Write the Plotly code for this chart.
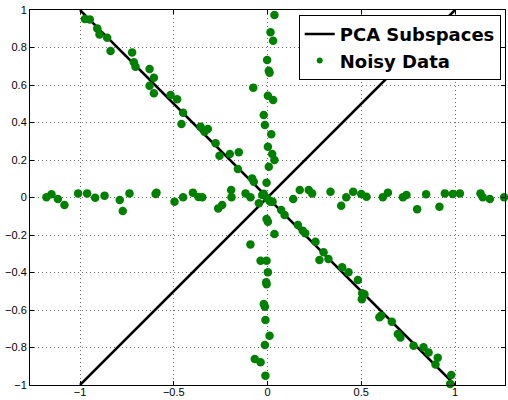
import plotly.graph_objects as go

# PCA subspace lines (endpoints)
line_x = [-1, 1, None, -1, 1]
line_y = [1, -1, None, -1, 1]

# Noisy data: points near the horizontal subspace
h_x = [-1.179, -1.152, -1.118, -1.083, -1.010, -0.962, -0.919, -0.869, -0.788, -0.772,
       -0.736, -0.597, -0.592, -0.496, -0.450, -0.398, -0.368, -0.348, -0.263, -0.242,
       -0.194, -0.192, -0.117, -0.091, -0.046, -0.028, -0.002, 0.016, 0.137, 0.172,
       0.220, 0.238, 0.336, 0.393, 0.420, 0.457, 0.500, 0.528, 0.615, 0.642,
       0.722, 0.741, 0.798, 0.846, 0.917, 0.946, 0.988, 1.026, 1.136, 1.148,
       1.186, 1.262]
h_y = [0.001, 0.017, -0.008, -0.040, 0.022, 0.022, -0.001, 0.010, -0.013, -0.072,
       0.022, 0.019, 0.026, -0.022, 0.001, 0.026, 0.003, 0.001, -0.058, -0.040,
       0.040, 0.001, 0.022, 0.001, -0.031, 0.013, -0.004, -0.022, -0.008, 0.040,
       0.040, 0.022, 0.031, -0.044, 0.001, 0.031, 0.019, 0.004, 0.001, 0.026,
       0.001, 0.013, -0.063, 0.017, -0.049, 0.022, 0.019, 0.022, 0.022, 0.001,
       -0.008, 0.001]

# Points near the vertical subspace
v_x = [0.037, 0.016, 0.030, -0.002, 0.007, 0.011, -0.076, 0.002, 0.030, -0.020,
       -0.014, 0.020, 0.002, 0.025, 0.037, 0.007, -0.005, -0.005, 0.002, 0.037,
       -0.091, -0.037, -0.005, 0.002, -0.007, -0.005, -0.020, -0.014, -0.011, 0.011,
       -0.014, -0.068, -0.037, -0.011]
v_y = [0.973, 0.881, 0.836, 0.733, 0.676, 0.666, 0.586, 0.543, 0.520, 0.440,
       0.387, 0.337, 0.271, 0.232, 0.200, 0.164, 0.079, -0.115, -0.129, -0.195,
       -0.250, -0.337, -0.337, -0.399, -0.452, -0.463, -0.568, -0.582, -0.653, -0.737,
       -0.787, -0.861, -0.879, -0.950]

# Points near the diagonal subspace
d_x = [-1.003, -0.974, -0.948, -0.908, -0.896, -0.855, -0.837, -0.722, -0.713, -0.704,
       -0.629, -0.606, -0.629, -0.606, -0.517, -0.482, -0.450, -0.459, -0.357, -0.336,
       -0.318, -0.277, -0.256, -0.201, -0.153, -0.158, -0.082, -0.073, -0.020, 0.011,
       0.027, 0.073, 0.091, 0.162, 0.188, 0.201, 0.256, 0.299, 0.277, 0.325,
       0.398, 0.432, 0.482, 0.505, 0.517, 0.503, 0.597, 0.606, 0.663, 0.695,
       0.709, 0.779, 0.832, 0.859, 0.908, 0.896, 0.980, 0.974]
d_y = [1.004, 0.952, 0.950, 0.902, 0.870, 0.852, 0.781, 0.774, 0.721, 0.698,
       0.685, 0.639, 0.596, 0.556, 0.547, 0.524, 0.452, 0.392, 0.378, 0.351,
       0.365, 0.289, 0.223, 0.232, 0.241, 0.152, 0.102, 0.084, 0.020, -0.017,
       -0.022, -0.067, -0.093, -0.147, -0.177, -0.191, -0.236, -0.292, -0.333, -0.328,
       -0.372, -0.399, -0.440, -0.511, -0.516, -0.543, -0.639, -0.630, -0.662, -0.728,
       -0.746, -0.790, -0.799, -0.826, -0.854, -0.890, -0.947, -0.995]

x_ticks = [-1, -0.5, 0, 0.5, 1]
x_labels = ["\u22121", "\u22120.5", "0", "0.5", "1"]
y_ticks = [-1, -0.8, -0.6, -0.4, -0.2, 0, 0.2, 0.4, 0.6, 0.8, 1]
y_labels = ["\u22121", "\u22120.8", "\u22120.6", "\u22120.4", "\u22120.2", "0",
            "0.2", "0.4", "0.6", "0.8", "1"]

data_x = h_x + v_x + d_x
data_y = h_y + v_y + d_y

GREEN = "#008000"

fig = go.Figure()
fig.add_trace(go.Scatter(
    x=line_x, y=line_y, mode="lines", name="<b>PCA Subspaces</b>",
    line=dict(color="black", width=2.5),
))
fig.add_trace(go.Scatter(
    x=data_x, y=data_y, mode="markers", name="Noisy Data",
    marker=dict(color=GREEN, size=8.5), cliponaxis=False, showlegend=False,
))
# legend-only entry with the small legend dot
fig.add_trace(go.Scatter(
    x=[None], y=[None], mode="markers", name="<b>Noisy Data</b>",
    marker=dict(color=GREEN, size=6),
))

axis_common = dict(
    showline=True, linecolor="black", linewidth=1, mirror="ticks",
    ticks="inside", ticklen=4, tickcolor="black",
    showgrid=True, gridcolor="#6a6a6a", griddash="1px,3px", gridwidth=1,
    zeroline=False, automargin=False,
    tickfont=dict(family="Liberation Sans, Arial", size=11, color="black"),
)

fig.update_layout(
    width=508, height=400,
    margin=dict(l=30, r=3, t=10, b=15),
    paper_bgcolor="white", plot_bgcolor="white",
    showlegend=True,
    legend=dict(
        x=0.991, y=0.987, xanchor="right", yanchor="top",
        bgcolor="white", bordercolor="black", borderwidth=1,
        font=dict(family="DejaVu Sans", size=18, color="black"),
        itemwidth=30, traceorder="normal",
    ),
    xaxis=dict(range=[-1.2667, 1.2667], tickvals=x_ticks, ticktext=x_labels,
               ticklabelstandoff=-3, **axis_common),
    yaxis=dict(range=[-1, 1], tickvals=y_ticks, ticktext=y_labels, **axis_common),
)

fig.write_html(
    "out.html",
    config={"displayModeBar": False},
    post_script="document.body.style.margin='0';document.body.style.overflow='hidden';",
)
